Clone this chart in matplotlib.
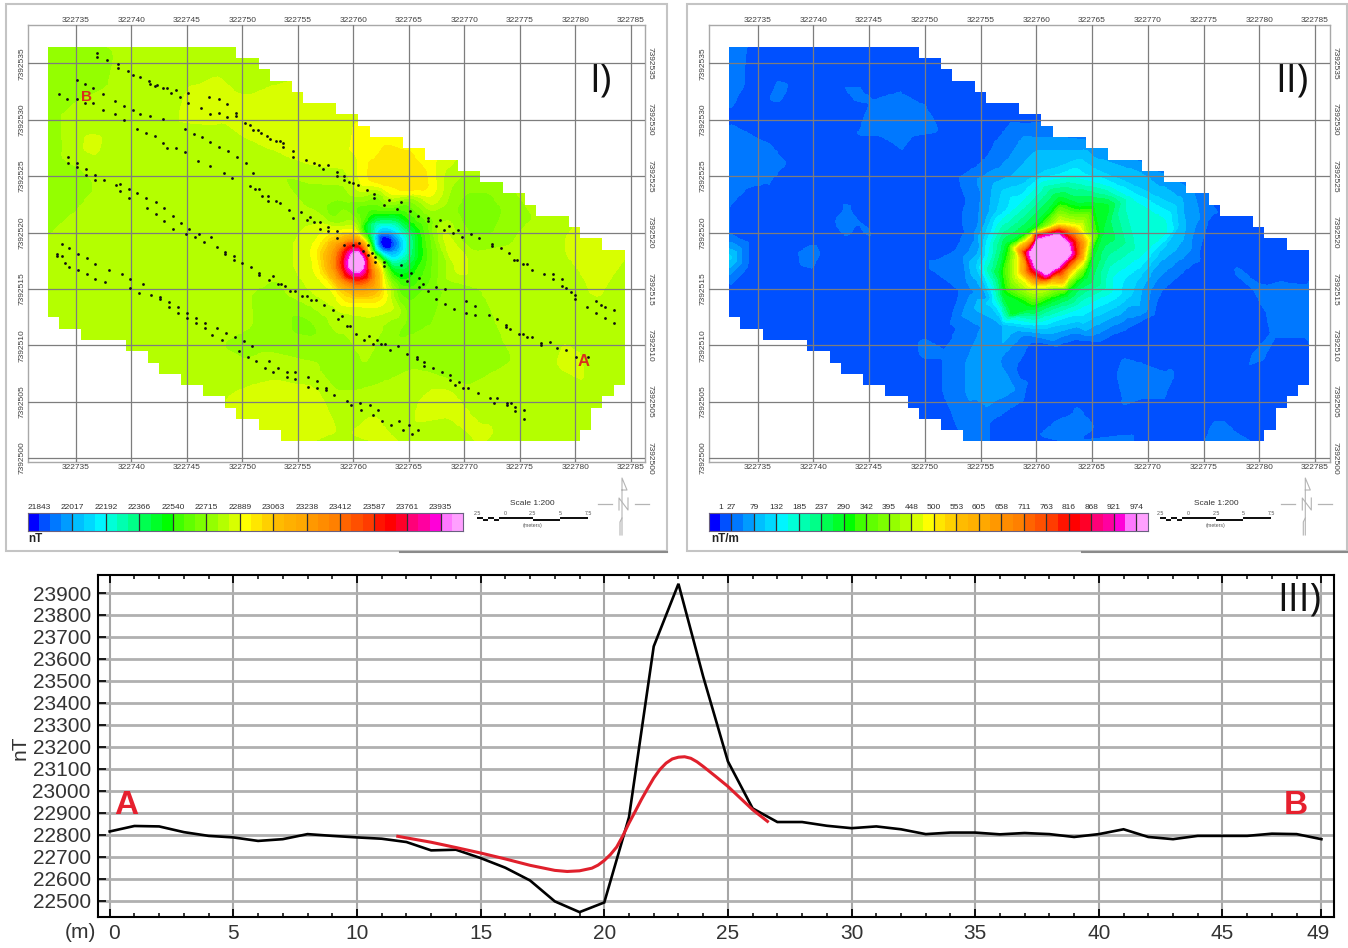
import numpy as np
import matplotlib
matplotlib.use("Agg")
import matplotlib.pyplot as plt
from matplotlib.colors import BoundaryNorm, ListedColormap
from matplotlib.path import Path
from matplotlib.patches import PathPatch, Rectangle
from matplotlib.transforms import ScaledTranslation
from matplotlib.tri import Triangulation, LinearTriInterpolator

W, H = 1348, 948
EAST0, NORTH0 = 322730, 7392500

# ---------- shared map data ----------
east_ticks = [322735, 322740, 322745, 322750, 322755, 322760, 322765, 322770, 322775, 322780, 322785]
north_ticks = [7392500, 7392505, 7392510, 7392515, 7392520, 7392525, 7392530, 7392535]
# survey extent: per 1 m row (top to bottom) first and last 1 m column
row_left = [0]*24 + [1, 3, 7, 9, 10, 12, 14, 16, 17, 19, 21]
row_right = [17, 19, 20, 22, 23, 26, 28, 29, 32, 34, 37, 39, 41, 43, 44, 47, 48, 50] + [52]*12 + [51, 50, 49, 49, 48]

ramp = ['#0000ff', '#0050ff', '#0078ff', '#009bff', '#00bfff', '#00d8ff', '#00f5ff', '#00ffd8', '#00ffb0',
        '#00ff88', '#00ff50', '#00ff28', '#00ff00', '#40ff00', '#60ff00', '#7cff00', '#94ff00', '#b4ff00',
        '#d8ff00', '#ffff00', '#ffe600', '#ffd000', '#ffbb00', '#ffb000', '#ffa800', '#ff9800', '#ff8c00',
        '#ff8000', '#ff6400', '#ff5000', '#ff3c00', '#ff1400', '#ff0000', '#ff0028', '#ff0078', '#ff00a0',
        '#ff00d8', '#ff78ff', '#ffa0ff']

# ---------- panel I: total field (nT), contour rings ----------
tf_labels = [21843, 22017, 22192, 22366, 22540, 22715, 22889, 23063, 23238, 23412, 23587, 23761, 23935]
tf_rings = [
    (24500, [(30.2, 17.4)]),
    (23950, [(30.0, 18.3), (30.8, 18.2), (31.1, 17.3), (30.9, 16.5), (30.2, 16.3), (29.5, 16.7), (29.5, 17.6)]),
    (23650, [(29.9, 19.0), (30.8, 18.7), (31.4, 17.4), (31.3, 16.1), (30.3, 15.7), (29.2, 16.1), (28.9, 17.4), (29.2, 18.5)]),
    (23300, [(29.8, 19.4), (30.7, 19.1), (31.5, 17.8), (31.9, 16.4), (31.7, 15.4), (30.3, 15.0), (28.9, 15.6), (28.1, 17.0), (28.4, 18.6)]),
    (23050, [(29.3, 19.7), (30.3, 19.5), (31.1, 18.5), (31.8, 17.2), (32.4, 15.6), (32.4, 14.7), (31.5, 14.3), (30.5, 14.2), (28.8, 15.0), (27.4, 16.5), (27.2, 18.2), (28.0, 19.4)]),
    (22900, [(28.6, 20.1), (30.4, 19.95), (31.4, 18.9), (32.2, 17.5), (32.8, 15.8), (33.0, 14.3), (32.3, 13.4), (30.5, 13.5), (28.4, 14.7), (26.7, 16.4), (26.3, 18.4), (27.2, 19.8)]),
    (22830, [(24.6, 19.0), (25.6, 20.5), (27.5, 20.8), (30.3, 20.6), (33.6, 15.4), (34.0, 13.2), (31.5, 12.4), (28.6, 13.0), (26.0, 14.7), (24.6, 16.6)]),
    (21500, [(32.8, 19.0)]),
    (21900, [(32.0, 19.3), (32.8, 19.7), (33.6, 19.3), (33.7, 18.8), (32.9, 18.4), (32.1, 18.7)]),
    (22150, [(31.5, 19.7), (32.2, 20.4), (33.6, 20.3), (34.6, 19.3), (34.4, 18.0), (33.4, 17.6), (32.8, 18.0), (32.2, 18.9)]),
    (22350, [(31.1, 20.2), (32.0, 21.0), (33.8, 21.0), (35.2, 19.6), (35.1, 17.8), (33.8, 17.0), (33.0, 17.4), (32.1, 18.8)]),
    (22550, [(30.8, 20.6), (31.8, 21.6), (34.0, 21.7), (36.0, 20.2), (36.2, 17.8), (35.2, 16.0), (34.0, 15.8), (33.3, 16.6), (32.6, 17.6), (31.8, 19.0)]),
    (22700, [(29.0, 22.5), (32.0, 23.3), (35.0, 22.8), (37.0, 21.0), (37.5, 18.0), (37.2, 15.0), (36.5, 12.5), (34.7, 11.5), (34.0, 14.0), (33.5, 15.5), (32.8, 17.5), (31.6, 19.8), (30.5, 20.9), (28.0, 21.2)]),
    (23010, [(33.6, 25.0)]),
    (22970, [(31.6, 26.0), (33.0, 26.6), (35.0, 26.0), (36.4, 24.8), (36.4, 23.6), (34.8, 23.5), (32.6, 24.2), (31.4, 24.8)]),
    (22900, [(30.5, 27.0), (31.0, 29.5), (33.0, 30.5), (36.0, 29.5), (37.3, 27.0), (37.5, 24.0), (36.8, 23.0), (33.5, 23.2), (31.0, 24.0)]),
    (22660, [(41.0, 21.7)]),
    (22730, [(38.8, 22.0), (40.0, 24.0), (42.5, 24.0), (44.0, 22.0), (43.0, 19.5), (40.5, 19.2)]),
    (22800, [(38.5, 24.5), (40.0, 25.8), (44.0, 25.5), (46.0, 23.0), (45.0, 18.5), (41.0, 17.8)]),
]
tf_points = [
    (-2, -2, 22800), (20, -2, 22800), (40, -2, 22800), (58, -2, 22800), (58, 20, 22800), (58, 40, 22800),
    (30, 40, 22800), (-2, 40, 22800), (-2, 20, 22800),
    (2.5, 36.5, 22730), (5, 34, 22740), (2.5, 31, 22750), (5, 30.5, 22790), (10, 36.5, 22790), (15, 36.5, 22800),
    (19, 36, 22810), (10, 32, 22800), (12, 28, 22800), (2.5, 26, 22740), (4.5, 24, 22730), (2.5, 22, 22740),
    (5, 21, 22790), (2.5, 18, 22800), (2.5, 13, 22800), (8, 24, 22800), (10, 20, 22800), (14, 24, 22800),
    (18, 22, 22800), (8, 14, 22800), (13, 10, 22790), (19, 15, 22800), (23, 18, 22815), (17, 6, 22800),
    (6.7, 27.8, 22870), (5.5, 29, 22820), (8, 29, 22810), (7, 26, 22810),
    (15, 32, 22840), (16, 31.2, 22860), (18, 31, 22850), (20, 29.8, 22860), (23, 28.2, 22860), (26, 26.5, 22850),
    (29, 25, 22810), (14, 33, 22810), (19, 27.5, 22800), (22, 26, 22790), (26, 24.2, 22770),
    (21, 34, 22810), (24, 32.5, 22845), (27, 30, 22860), (29, 32, 22850), (26, 34, 22830),
    (26, 23, 22740), (38, 28, 22850), (40, 27, 22830), (44, 28, 22800), (48, 24, 22800), (50, 22, 22820),
    (47, 21, 22790), (20, 5, 22860), (23.5, 4.6, 22885), (26.5, 5, 22870), (23, 1.5, 22860), (18, 3, 22830),
    (26, 8, 22790), (22, 10, 22760), (25.8, 11.7, 22690), (23, 14, 22740), (28, 10, 22740), (28, 7, 22760),
    (31, 7, 22760), (31.5, 2.3, 22860), (29, 2, 22825), (34, 2, 22820), (33, 5, 22800), (35, 8, 22770),
    (35, 13.2, 22680), (38, 11, 22740), (40.5, 9.6, 22730), (43, 9, 22760), (44, 7, 22790), (40, 6.5, 22770),
    (38.5, 5.5, 22860), (41.8, 2, 22845), (38.5, 2, 22810), (45, 2, 22790), (44, 12, 22790), (48, 12, 22790),
    (47, 8, 22800), (49.7, 8.7, 22870), (48.5, 7, 22810), (51, 9.5, 22810), (52, 5, 22800), (53, 11, 22800),
    (52, 15, 22840), (52, 18, 22890), (50, 19, 22850), (48, 18, 22810), (46, 15, 22790), (42, 15, 22780),
    (39, 18, 22900), (38, 20, 22860), (39.5, 16.5, 22860),
]

survey_line1 = [(6.9,35.9),(6.9,35.6),(7.8,35.3),(8.8,34.9),(8.8,34.6),(9.7,34.3),(10.1,34.0),(10.8,33.8),(11.6,33.4),(11.7,33.2),(12.1,33.0),(12.3,33.1),(12.8,32.8),(13.2,32.8),(13.6,32.4),(14.0,32.6),(14.4,32.0),(15.1,32.4),(15.1,31.5),(16.3,31.0),(17.0,32.0),(17.1,30.5),(17.9,31.8),(17.9,30.6),(18.6,31.4),(18.6,30.2),(19.4,30.6),(19.4,30.3),(20.2,29.7),(20.7,29.5),(21.0,29.1),(21.4,29.1),(21.7,28.8),(22.2,28.6),(22.5,28.3),(23.0,28.1),(23.4,28.1),(23.7,27.9),(23.7,27.6),(24.6,27.2),(24.6,26.7),(25.7,26.4),(26.5,26.2),(26.9,26.0),(27.3,25.6),(27.7,26.0),(28.5,25.4),(28.5,25.0),(29.2,25.0),(29.2,24.7),(29.6,24.5),(30.0,24.4),(30.4,24.2),(31.2,23.8),(31.9,23.4),(31.9,23.1),(32.8,22.4),(33.2,22.9),(33.9,22.1),(34.3,22.7),(35.1,21.9),(35.8,21.5),(36.7,21.3),(36.7,21.0),(37.5,20.6),(37.8,21.1),(38.2,20.2),(38.6,20.6),(39.0,20.0),(39.4,20.2),(39.8,19.6),(40.6,19.9),(41.3,19.5),(42.5,19.0),(42.5,18.8),(43.3,18.6),(44.0,18.2),(44.5,17.6),(44.8,17.6),(45.3,17.2),(45.7,17.2),(46.1,16.7),(47.2,16.3),(48.0,16.3),(48.0,15.9),(48.8,15.9),(48.8,15.3),(49.2,15.1),(49.6,14.7),(50.0,14.5),(50.0,14.1),(51.1,13.4),(51.9,13.9),(52.3,13.6),(52.7,13.4),(53.5,13.1),(51.9,12.9),(52.7,12.4),(53.5,12.0)]
survey_line2 = [(3.5,32.3),(4.2,31.8),(5.1,33.5),(5.1,31.8),(5.8,33.2),(5.8,31.5),(6.5,32.8),(6.5,31.5),(7.4,32.3),(7.4,30.9),(8.5,31.7),(8.5,30.5),(9.3,31.2),(9.3,30.0),(10.1,30.9),(10.8,30.5),(11.7,30.3),(12.8,30.1),(10.5,29.2),(11.3,28.8),(12.1,28.6),(12.8,27.9),(13.2,27.5),(14.0,27.5),(14.8,29.2),(14.8,27.1),(15.6,28.7),(16.4,28.5),(17.1,28.0),(17.9,27.6),(18.7,27.2),(19.5,26.7),(20.3,26.2),(21.0,25.3),(16.0,26.3),(17.1,25.9),(18.3,25.3),(19.1,24.8),(20.7,24.1),(21.1,23.9),(21.5,23.9),(21.8,23.2),(22.3,23.2),(22.3,22.8),(23.0,22.8),(23.4,22.6),(24.2,22.0),(24.6,21.3),(25.3,21.8),(25.8,21.1),(26.1,21.4),(26.5,20.9),(27.0,20.9),(27.0,20.3),(27.7,20.5),(27.7,20.1),(28.5,20.1),(28.5,19.5),(29.2,18.9),(30.0,18.9),(30.5,19.1),(30.9,18.4),(31.3,18.9),(31.3,18.0),(31.7,18.2),(32.0,17.8),(32.0,17.4),(32.8,17.4),(32.8,17.0),(34.3,17.1),(34.3,16.2),(35.2,16.4),(35.9,16.0),(34.8,15.7),(35.9,15.2),(36.3,15.4),(36.7,14.8),(37.5,15.2),(38.3,15.0),(37.5,14.1),(38.3,13.7),(39.1,13.2),(40.2,13.9),(41.0,13.5),(40.2,12.9),(41.0,12.7),(42.2,12.7),(43.0,12.3),(43.8,11.8),(43.8,11.6),(44.1,11.4),(44.9,11.0),(45.3,11.0),(45.7,10.7),(46.1,10.7),(46.9,10.2),(46.9,10.0),(47.7,10.3),(48.4,9.8),(49.2,9.6),(50.1,9.0),(51.2,9.0)]
survey_line3 = [(4.3,26.7),(4.3,26.2),(5.1,26.2),(5.1,25.8),(5.9,25.6),(5.9,25.1),(6.7,25.1),(6.7,24.7),(7.5,24.7),(8.6,24.2),(9.0,24.3),(9.0,23.7),(9.8,23.9),(9.8,23.1),(10.5,23.5),(11.3,23.1),(11.4,22.2),(12.2,22.7),(12.2,21.6),(12.9,22.2),(12.9,21.0),(13.7,21.5),(13.7,20.3),(14.5,20.8),(14.9,19.9),(15.2,20.3),(15.7,19.6),(16.1,19.9),(16.5,19.2),(17.2,19.6),(17.7,18.7),(18.4,18.3),(18.4,18.1),(19.2,17.9),(19.2,17.6),(20.0,17.3),(20.8,16.9),(21.5,16.4),(21.5,16.2),(22.4,15.8),(22.8,16.1),(23.2,15.4),(23.5,15.4),(23.8,15.3),(24.3,14.8),(24.7,14.8),(25.4,14.4),(25.8,14.4),(26.2,14.0),(26.6,14.0),(27.4,13.6),(28.2,13.1),(29.0,12.6),(28.6,12.3),(29.4,11.7),(29.7,11.7),(30.2,11.0),(31.0,10.5),(31.4,10.8),(31.8,10.1),(32.1,10.5),(32.5,10.1),(32.9,10.1),(33.3,9.6),(34.0,9.9),(34.8,9.2),(35.7,9.0),(35.7,8.8),(36.4,8.5),(36.4,8.2),(37.2,8.0),(38.0,7.6),(38.7,7.4),(38.7,6.9),(39.5,6.7),(39.2,6.5),(39.9,6.2),(40.3,6.2),(41.2,5.8),(42.3,5.3),(42.7,4.9),(43.0,5.3),(43.9,4.9),(43.9,4.7),(44.2,4.9),(44.6,4.5),(44.6,4.2),(45.4,4.3),(45.4,3.5)]
survey_line4 = [(3.7,19.0),(3.3,18.1),(3.3,17.9),(3.7,17.9),(4.4,18.6),(4.0,17.3),(4.4,16.9),(5.2,18.1),(5.2,16.7),(6.0,17.7),(6.0,16.3),(6.7,17.2),(6.7,15.9),(8.0,16.7),(9.1,16.3),(9.9,15.9),(7.6,15.6),(9.9,15.1),(11.0,15.4),(10.7,14.6),(11.8,14.5),(12.6,14.3),(12.6,14.1),(13.4,13.8),(13.4,13.4),(14.2,13.4),(14.2,12.9),(15.0,12.9),(15.0,12.4),(15.8,12.4),(15.8,12.0),(16.6,12.0),(16.6,11.5),(17.7,11.5),(18.5,11.1),(17.3,10.9),(18.2,10.5),(19.3,10.7),(20.1,10.4),(20.9,9.9),(19.7,9.5),(20.5,9.0),(21.2,8.6),(22.4,8.6),(22.0,8.0),(23.2,8.0),(22.8,7.6),(24.0,7.6),(24.0,7.2),(24.7,7.6),(24.7,7.0),(25.9,7.2),(26.7,6.8),(25.9,6.3),(26.7,6.2),(27.5,6.2),(27.5,6.0),(28.3,5.6),(29.4,5.1),(29.8,4.7),(30.6,4.9),(30.7,4.3),(31.5,4.7),(32.2,4.3),(31.8,3.8),(32.6,3.3),(34.1,3.3),(33.4,2.9),(35.0,2.9),(34.5,2.5),(35.8,2.5),(35.3,2.1)]

# ---------- panel II: analytic signal (nT/m) ----------
as_labels = [1, 27, 79, 132, 185, 237, 290, 342, 395, 448, 500, 553, 605, 658, 711, 763, 816, 868, 921, 974]
as_rings = [
    (1300, [(31.2, 18.2)]),
    (990, [(29.4, 18.2), (30.0, 19.3), (32.0, 19.8), (32.9, 19.0), (33.1, 18.1), (32.0, 17.0), (30.9, 16.3), (29.9, 16.9)]),
    (850, [(29.0, 18.2), (29.8, 19.7), (32.0, 20.2), (33.3, 19.2), (33.5, 18.0), (32.2, 16.7), (30.9, 15.9), (29.6, 16.6)]),
    (500, [(28.4, 17.9), (29.6, 19.7), (32.0, 20.7), (33.8, 20.4), (34.7, 19.3), (34.4, 17.6), (33.2, 16.4), (31.1, 15.4), (29.6, 15.3), (28.4, 16.4)]),
    (275, [(26.7, 16.4), (27.3, 18.8), (29.6, 20.3), (31.1, 21.8), (32.1, 23.0), (33.8, 22.4), (35.3, 22.5), (36.4, 22.4), (35.8, 20.0), (35.0, 17.8), (34.4, 16.1), (32.6, 14.4), (29.6, 13.2), (27.8, 12.7), (27.0, 14.5)]),
    (160, [(25.7, 17.9), (26.6, 20.9), (28.4, 22.4), (30.5, 24.5), (33.2, 24.9), (36.2, 24.2), (38.6, 23.0), (41.6, 21.2), (41.9, 20.0), (39.8, 18.2), (36.8, 16.1), (36.8, 14.7), (33.8, 13.2), (30.5, 12.1), (27.8, 12.3), (26.3, 14.1)]),
    (105, [(24.5, 17.0), (25.2, 19.4), (26.4, 21.9), (29.0, 24.5), (30.8, 25.5), (35.6, 25.5), (38.6, 24.3), (41.3, 23.0), (42.8, 20.6), (41.6, 18.8), (39.2, 15.8), (38.6, 14.4), (35.6, 12.6), (30.8, 11.4), (27.5, 11.7), (25.4, 13.8)]),
    (75, [(25.6, 21.7), (25.9, 24.5), (29.8, 27.6), (34.4, 27.6), (39.4, 25.6), (43.2, 23.2), (43.6, 20.8), (40.9, 17.0), (39.4, 13.2), (34.4, 11.1), (29.8, 11.1), (26.8, 11.7), (25.6, 14.1), (24.8, 18.5)]),
    (30, [(24.0, 22.3), (25.6, 26.4), (29.8, 29.5), (34.8, 29.0), (40.2, 26.6), (45.9, 21.7), (44.4, 17.6), (40.9, 14.6), (38.0, 11.5), (33.7, 10.6), (29.4, 10.4), (28.7, 5.2), (25.6, 3.1), (25.6, 1.5), (23.5, 1.5), (21.8, 5.8), (21.8, 9.3), (23.3, 14.9), (22.9, 18.2), (24.0, 20.3)]),
    (60, [(24.1, 8.4), (26.4, 8.7), (27.9, 6.1), (25.6, 4.9), (24.1, 5.8)]),
    (55, [(17.7, 30.3), (25.0, 6.9)]),
    (30, [(14.3, 28.8), (15.3, 31.5), (17.6, 32.2), (19.7, 31.2), (21.0, 29.1), (18.9, 28.8), (18.0, 27.6), (16.0, 28.8)]),
    (30, [(37.9, 8.7), (42.1, 7.3), (41.3, 5.5), (38.0, 4.9), (37.5, 7.3)]),
    (48, [(40.0, 6.8), (2.5, 25.5)]),
    (30, [(2.5, 36.7), (3.9, 36.7), (3.6, 33.0), (2.5, 31.0)]),
    (30, [(2.5, 29.5), (6.1, 27.6), (7.4, 26.1), (6.1, 24.7), (4.0, 24.1), (2.5, 22.6)]),
    (30, [(2.5, 19.7), (4.0, 19.0), (4.0, 17.0), (2.5, 15.5)]),
    (120, [(2.5, 17.8)]),
    (30, [(12.0, 21.0), (13.0, 22.3), (14.0, 21.0), (13.0, 19.8)]),
    (30, [(48.0, 16.7), (49.8, 15.2), (50.9, 13.2), (51.3, 11.1), (54.5, 11.1), (54.5, 15.2), (52.4, 15.4), (50.9, 15.0)]),
    (52, [(52.5, 13.0)]),
    (30, [(30.6, 2.0), (33.9, 4.0), (38.6, 1.9), (33.5, 1.4)]),
    (44, [(33.5, 2.5)]),
    (34, [(46.9, 2.1), (21.0, 17.0), (19.9, 10.0), (15.1, 20.0), (13.9, 32.0), (49.7, 9.0), (7.0, 32.4), (10.0, 18.0)]),
]
as_background = [
    (-2, -2), (20, -2), (40, -2), (58, -2), (58, 20), (58, 40), (30, 40), (-2, 40), (-2, 20),
    (6, 36), (10, 35), (15, 35), (20, 35), (8, 31), (11, 29), (10, 25), (14, 25), (18, 25), (22, 25), (22, 32),
    (26, 33), (6, 21), (9, 21), (16, 23), (20, 21), (6, 15), (10, 14), (15, 16), (19, 14), (12, 9), (17, 7),
    (20, 12), (20, 20), (18, 18), (42, 27), (46, 25), (50, 22), (47, 19), (45, 14), (42, 12), (36, 9), (33, 8),
    (30, 7), (30, 4), (44, 9), (47, 6), (52, 8), (50, 3), (42, 3), (37, 3), (27, 1), (28, 3), (53, 18), (22, 2),
    (20, 27), (22.5, 29), (23.5, 31), (13, 27.5), (13, 31), (16, 33.5), (20, 33), (22, 27.5), (19, 27), (16, 27),
    (8.5, 27), (8, 25), (7, 29.5), (4.5, 30), (5, 33), (5.5, 36.5), (4.5, 22.5), (5.5, 19), (5, 16), (3, 14),
    (3, 21), (4, 31), (2.5, 30.3), (46.5, 16), (47, 13.5), (49, 10.5), (56, 13), (50, 17.5), (53, 16.5), (43, 13),
    (32, 9.5), (36, 10), (35, 5.5), (39, 4), (40, 1), (29.5, 1), (36, 6.5), (43.5, 6), (11, 21), (15, 21), (12, 18.5),
    (14, 19), (13, 24), (16, 19), (19, 16), (19, 19), (21, 15), (21, 19), (18, 11), (21.5, 11.5), (18, 8), (20, 6),
    (25, 28), (27, 30.5), (31, 32), (36, 31), (41, 28.5), (46, 21), (43, 15.5), (41, 12.5), (38, 10), (29, 7.5),
    (31, 9.8), (33, 10), (27, 3),
]

# ---------- panel III: profile A-B (nT) ----------
profile_x = list(range(50))
profile_nt = [22815, 22840, 22838, 22812, 22795, 22788, 22772, 22780, 22803, 22795, 22788, 22782, 22767, 22729, 22732,
              22694, 22650, 22592, 22497, 22448, 22492, 22880, 23657, 23942, 23520, 23134, 22920, 22858, 22858, 22841,
              22830, 22838, 22825, 22803, 22810, 22810, 22802, 22808, 22803, 22790, 22803, 22825, 22790, 22780, 22795,
              22795, 22795, 22805, 22803, 22780]
model_x = [11.65, 13, 14, 15, 16, 17, 18, 18.5, 19, 19.5, 19.75, 20, 20.25, 20.5, 20.75, 21, 21.25, 21.5, 21.75, 22,
           22.25, 22.5, 22.75, 23, 23.25, 23.5, 23.75, 24, 24.5, 25, 25.5, 26, 26.6]
model_nt = [22793, 22766, 22742, 22717, 22690, 22661, 22638, 22633, 22636, 22648, 22662, 22683, 22710, 22744, 22795,
            22853, 22906, 22960, 23010, 23058, 23097, 23126, 23145, 23153, 23155, 23148, 23132, 23111, 23066, 23020,
            22967, 22914, 22861]
profile_ticks = [0, 5, 10, 15, 20, 25, 30, 35, 40, 45, 49]
nt_ticks = list(range(22500, 24000, 100))

plt.rcParams['font.family'] = ['Liberation Sans', 'DejaVu Sans']
fig = plt.figure(figsize=(W/100, H/100), dpi=100)


def add_ax(l, t, r, b, **kw):
    return fig.add_axes([l/W, 1-b/H, (r-l)/W, (b-t)/H], **kw)


def stair_path():
    top = 36.47
    x0 = 2.46
    pts = []
    for i, c in enumerate(row_right):
        pts += [(x0+c, top-i), (x0+c, top-i-1)]
    for i in range(len(row_left)-1, -1, -1):
        c = row_left[i]
        pts += [(x0+c, top-i-1), (x0+c, top-i)]
    pts = [(EAST0+a, NORTH0+b) for a, b in pts]
    return Path(pts + [pts[0]], closed=True)


def gather(rings, points):
    seen = {}
    for v, ring in rings:
        for a, b in ring:
            seen.setdefault((a, b), v)
    for a, b, v in points:
        seen.setdefault((a, b), v)
    k = np.array(list(seen.keys()))
    return k[:, 0], k[:, 1], np.array(list(seen.values()), float)


def label_map_ticks(ax):
    kw = dict(fontsize=6, color='#404040', ha='center', va='center', textcoords='offset pixels')
    xt = ax.get_xaxis_transform()
    yt = ax.get_yaxis_transform()
    for t in east_ticks:
        ax.annotate(str(t), (t, 1), xycoords=xt, xytext=(0, 5), **kw)
        ax.annotate(str(t), (t, 0), xycoords=xt, xytext=(0, -6), **kw)
    for t in north_ticks:
        ax.annotate(str(t), (0, t), xycoords=yt, xytext=(-6, 0), rotation=90, **kw)
        ax.annotate(str(t), (1, t), xycoords=yt, xytext=(5, 0), rotation=270, **kw)


def draw_map(ax, rings, points, levels, blur, xlim, ylim):
    xs, ys, vs = gather(rings, points)
    tri = Triangulation(xs, ys)
    step = 0.08
    gx, gy = np.meshgrid(np.arange(1, 56.01, step), np.arange(-1, 39.01, step))
    z = LinearTriInterpolator(tri, vs)(gx, gy)
    z = np.ma.filled(z, np.nanmedian(vs))
    n = int(round(blur/step))
    if n > 1:
        kern = np.ones(n)/n
        z = np.pad(z, n, mode='edge')
        z = np.apply_along_axis(lambda r: np.convolve(r, kern, mode='same'), 0, z)
        z = np.apply_along_axis(lambda r: np.convolve(r, kern, mode='same'), 1, z)
        z = z[n:-n, n:-n]
    lev = np.array(levels, float)
    lev[0] = -1e6
    lev[-1] = 1e6
    mesh = ax.pcolormesh(gx+EAST0, gy+NORTH0, z, cmap=ListedColormap(ramp), norm=BoundaryNorm(lev, len(ramp)),
                         shading='nearest', rasterized=True)
    patch = PathPatch(stair_path(), transform=ax.transData, fc='none', ec='none')
    ax.add_patch(patch)
    mesh.set_clip_path(patch)
    ax.set_xlim(*xlim)
    ax.set_ylim(*ylim)
    ax.set_xticks(east_ticks)
    ax.set_yticks(north_ticks)
    ax.grid(True, color='#7d7d7d', lw=0.9, zorder=3)
    ax.set_axisbelow(False)
    ax.tick_params(length=0, labelbottom=False, labelleft=False)
    label_map_ticks(ax)
    for s in ax.spines.values():
        s.set_color('#a8a8a8')
        s.set_linewidth(1.0)


def draw_bar(l, r, ticks_idx, labels, lines_idx):
    cax = add_ax(l, 513, r, 530.7)
    cax.pcolormesh(np.arange(len(ramp)+1), [0, 1], np.arange(len(ramp))[None, :],
                   cmap=ListedColormap(ramp), vmin=-0.5, vmax=len(ramp)-0.5)
    cax.vlines(lines_idx, 0, 1, color='#303030', lw=0.9)
    cax.set_yticks([])
    cax.set_xticks(ticks_idx)
    cax.set_xticklabels([str(v) for v in labels], fontsize=6, color='#303030')
    cax.tick_params(axis='x', length=0, top=True, labeltop=True, bottom=False, labelbottom=False, pad=1.5)
    for s in cax.spines.values():
        s.set_color('#6a6080')
        s.set_linewidth(0.8)


# Panel I
ax1 = add_ax(27.8, 25, 645, 462)
tf_levels = [21785+58.14*i for i in range(40)]
draw_map(ax1, tf_rings, tf_points, tf_levels, 1.0, (322730.65, 322786.3), (7392499.65, 7392538.4))
for line in (survey_line1, survey_line2, survey_line3, survey_line4):
    arr = np.array(line)
    ax1.scatter(arr[:, 0]+EAST0, arr[:, 1]+NORTH0, s=4, c='#101010', linewidths=0, zorder=5)
ax1.text(322735.9, 7392532.0, 'B', color='#d8301c', fontsize=11, fontweight='bold', ha='center', va='center', zorder=6)
ax1.text(322780.8, 7392508.6, 'A', color='#d8301c', fontsize=12, fontweight='bold', ha='center', va='center', zorder=6)
ax1.text(322782.3, 7392533.4, 'I)', fontsize=28, family='Open Sans', color='#111111', ha='center', va='center', zorder=6)

# Panel II
ax2 = add_ax(709, 25, 1329.6, 462)
as_levels = [1+26.3*(i-1) for i in range(40)]
as_points = [(a, b, 12) for a, b in as_background]
draw_map(ax2, as_rings, as_points, as_levels, 0.4, (322730.65, 322786.3), (7392499.65, 7392538.4))
ax2.text(322782.9, 7392533.4, 'II)', fontsize=28, family='Open Sans', color='#111111', ha='center', va='center', zorder=6)

draw_bar(27.8, 463, [1+3*i for i in range(13)], tf_labels, [4+3*i for i in range(12)])
draw_bar(709, 1147.5, [1, 2]+[4+2*i for i in range(18)], as_labels, [2]+[4+2*i for i in range(18)])

# Panel III
ax3 = add_ax(97.7, 575, 1334, 917.3)
ax3.plot(profile_x, profile_nt, color='black', lw=1.9, zorder=4, solid_joinstyle='miter')
ax3.plot(model_x, model_nt, color='#e0202c', lw=2.2, zorder=5)
ax3.set_xlim(-0.485, 49.51)
ax3.set_ylim(22424.5, 23982)
ax3.set_xticks(profile_ticks)
ax3.set_xticks(range(0, 50), minor=True)
ax3.set_yticks(nt_ticks)
ax3.set_xticklabels([str(t) for t in profile_ticks])
ax3.xaxis.grid(True, color='#a6a6a6', lw=1.5, zorder=1)
ax3.yaxis.grid(True, color='#b0b0b0', lw=2.0, zorder=1)
ax3.tick_params(axis='x', which='major', direction='in', length=6, width=1.3, top=True, labelsize=15, labelcolor='#333333', pad=5)
ax3.tick_params(axis='x', which='minor', direction='in', length=3, width=1.1, top=True)
ax3.tick_params(axis='y', direction='in', length=6, width=1.2, labelsize=15, labelcolor='#333333', pad=5)
labs = ax3.get_xticklabels()
labs[0].set_transform(labs[0].get_transform()+ScaledTranslation(4/100, 0, fig.dpi_scale_trans))
labs[-1].set_transform(labs[-1].get_transform()+ScaledTranslation(-3/100, 0, fig.dpi_scale_trans))
for s in ax3.spines.values():
    s.set_linewidth(1.5)
ax3.text(0.66, 22931, 'A', color='#e6202e', fontsize=24, fontweight='bold', ha='center', va='center', zorder=6)
ax3.text(47.95, 22931, 'B', color='#e6202e', fontsize=24, fontweight='bold', ha='center', va='center', zorder=6)
ax3.text(49.0, 23865, 'III)', fontsize=28, family='Open Sans', color='#111111', ha='right', va='center', zorder=6)

# Decoration layer in pixels
ov = fig.add_axes([0, 0, 1, 1], zorder=-1)
ov.set_xlim(0, W); ov.set_ylim(H, 0); ov.axis('off')
for l, r in ((6, 667), (687, 1347)):
    ov.add_patch(Rectangle((l, 4), r-l, 547, fc='white', ec='#c4c4c4', lw=1.5))
ov.plot([400, 667], [551.5, 551.5], color='#8a8a8a', lw=1.5)
ov.plot([1082, 1347], [551.5, 551.5], color='#8a8a8a', lw=1.5)

top = fig.add_axes([0, 0, 1, 1], zorder=10)
top.set_xlim(0, W); top.set_ylim(H, 0); top.axis('off'); top.patch.set_alpha(0)
top.text(28, 539, 'nT', fontsize=8.5, fontweight='bold', color='#222222', va='center')
top.text(711, 539, 'nT/m', fontsize=8.5, fontweight='bold', color='#222222', va='center')
top.text(20, 748, 'nT', fontsize=15, color='#333333', rotation=90, ha='center', va='center')
top.text(80, 932, '(m)', fontsize=15, color='#333333', ha='center', va='center')
for dx in (0, 683.3):
    top.text(532.7+dx, 503, 'Scale 1:200', fontsize=6, color='#333333', ha='center', va='center')
    for x, s in zip((477, 505, 532.7, 560, 588), ('2.5', '0', '2.5', '5', '7.5')):
        top.text(x+dx, 513.5, s, fontsize=3.8, color='#555555', ha='center', va='center')
    top.text(532.7+dx, 526, '(meters)', fontsize=3.8, color='#555555', ha='center', va='center')
    for i, (a, b) in enumerate(((477, 482.5), (482.5, 488), (488, 493.5), (493.5, 499), (499, 505))):
        top.add_patch(Rectangle((a+dx, 517 if i % 2 == 0 else 519), b-a, 1.6, fc='#111111', ec='none'))
    top.add_patch(Rectangle((505+dx, 517), 27.7, 2.4, fc='#111111', ec='none'))
    top.add_patch(Rectangle((532.7+dx, 518.5), 27.3, 2.4, fc='#111111', ec='none'))
    top.add_patch(Rectangle((560+dx, 517), 28, 2.4, fc='#111111', ec='none'))
    gray = '#b4b4b4'
    top.plot([598+dx, 612+dx], [504, 504], color=gray, lw=0.9)
    top.plot([635+dx, 649+dx], [504, 504], color=gray, lw=0.9)
    top.plot([622+dx, 622+dx, 627+dx, 622+dx], [535, 478, 490, 490], color=gray, lw=0.8)
    top.plot([619+dx, 619+dx, 628+dx, 628+dx], [510, 498, 510, 498], color=gray, lw=0.8)
    top.plot([620+dx, 620+dx, 622+dx], [535, 522, 518], color=gray, lw=0.8)

fig.savefig('out.png', dpi=100)
